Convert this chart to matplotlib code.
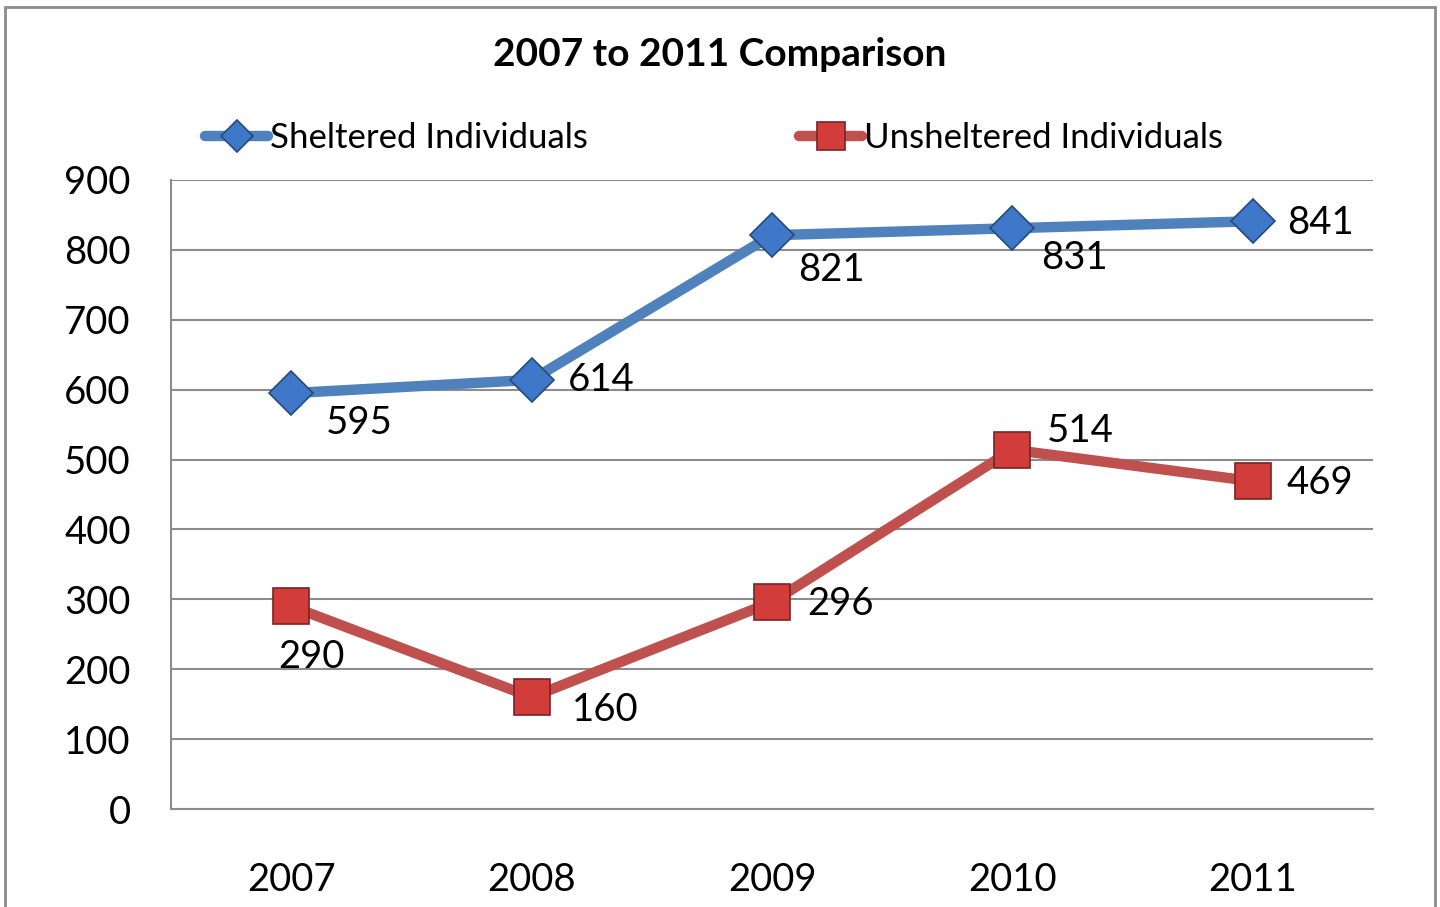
import matplotlib
matplotlib.use("Agg")
import matplotlib.pyplot as plt
from matplotlib.patches import Rectangle

years = ["2007", "2008", "2009", "2010", "2011"]
sheltered = [595, 614, 821, 831, 841]
unsheltered = [290, 160, 296, 514, 469]
yticks = [0, 100, 200, 300, 400, 500, 600, 700, 800, 900]

# label offsets in pixels (left edge of text, vertical centre)
shel_off = [(35, -30), (36, 0), (26, -35), (29, -30), (34, -2)]
unsh_off = [(-13, -51), (40, -13), (35, -2), (34, 19), (34, -2)]

plt.rcParams['font.family'] = ['Lato', 'DejaVu Sans']

fig = plt.figure(figsize=(14.4, 9.07), dpi=100)
fig.patches.append(Rectangle((5/1440, -0.05), 1430/1440, 1.05 - 7/907,
                             transform=fig.transFigure, fill=False,
                             edgecolor='#8c8c8c', linewidth=2))
ax = fig.add_axes([171/1440, 98/907, 1202/1440, 629/907])

x = list(range(len(years)))
blue = '#4F81BD'
red = '#C0504D'
ax.plot(x, sheltered, color=blue, linewidth=7.5, marker='D', markersize=22,
        markerfacecolor='#3f78c8', markeredgecolor='#244a80', markeredgewidth=1.2,
        label='Sheltered Individuals', zorder=3, solid_capstyle='round')
ax.plot(x, unsheltered, color=red, linewidth=7.5, marker='s', markersize=26,
        markerfacecolor='#d23c3a', markeredgecolor='#7a2422', markeredgewidth=1.2,
        label='Unsheltered Individuals', zorder=3, solid_capstyle='round')

for xi, v, (dx, dy) in zip(x, sheltered, shel_off):
    ax.annotate(str(v), (xi, v), xytext=(dx, dy), textcoords='offset pixels',
                ha='left', va='center', fontsize=27.5, color='black')
for xi, v, (dx, dy) in zip(x, unsheltered, unsh_off):
    ax.annotate(str(v), (xi, v), xytext=(dx, dy), textcoords='offset pixels',
                ha='left', va='center', fontsize=27.5, color='black')

ax.set_xlim(-0.5, 4.5)
ax.set_ylim(0, 900)
ax.set_yticks(yticks)
ax.set_xticks(x)
ax.set_xticklabels(years)
ax.tick_params(axis='both', length=0, labelsize=27.5, colors='black')
ax.tick_params(axis='x', pad=38)
ax.tick_params(axis='y', pad=29)
ax.yaxis.grid(True, color='#8c8c8c', linewidth=1.5)
ax.set_axisbelow(True)
for s in ['top', 'right']:
    ax.spines[s].set_visible(False)
for s in ['left', 'bottom']:
    ax.spines[s].set_color('#8c8c8c')
    ax.spines[s].set_linewidth(1.5)

fig.text(720/1440, 1 - 55/907, "2007 to 2011 Comparison", ha='center', va='center',
         fontsize=28, fontweight='bold')

leg = fig.legend(loc='center', bbox_to_anchor=(714/1440, 1 - 138/907), ncol=2,
                 frameon=False, fontsize=25, handlelength=1.8, handletextpad=0.05,
                 columnspacing=6.1, markerscale=0.75)

fig.savefig("out.png", dpi=100)
